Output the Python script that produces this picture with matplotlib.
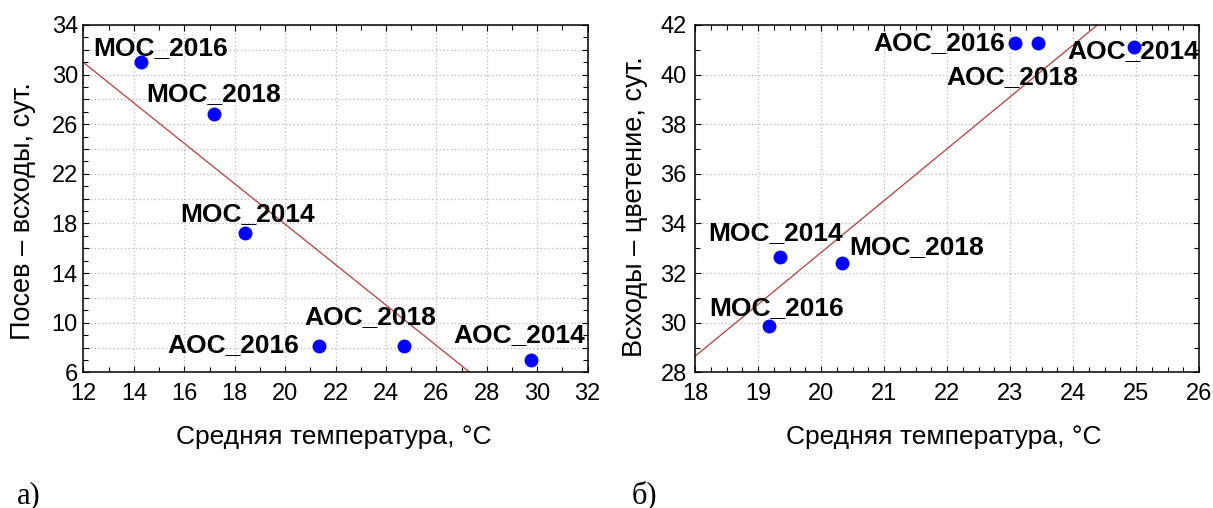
import numpy as np
import matplotlib
matplotlib.use('Agg')
import matplotlib.pyplot as plt
from matplotlib.ticker import MultipleLocator, FuncFormatter

plt.rcParams['font.family'] = ['Liberation Sans', 'DejaVu Sans']

# а) посев - всходы vs средняя температура
temp_a = [14.28, 17.17, 18.40, 21.36, 24.72, 29.77]
days_a = [31.05, 26.80, 17.27, 8.09, 8.09, 7.03]
names_a = ['MOC_2016', 'MOC_2018', 'MOC_2014', 'AOC_2016', 'AOC_2018', 'AOC_2014']

# б) всходы - цветение vs средняя температура
temp_b = [23.08, 23.45, 24.96, 19.35, 20.33, 19.17]
days_b = [41.29, 41.29, 41.10, 32.66, 32.39, 29.86]
names_b = ['AOC_2016', 'AOC_2018', 'AOC_2014', 'MOC_2014', 'MOC_2018', 'MOC_2016']

# label placement (pixels from the point, horizontal alignment)
offs_a = [(20, 7, 'center'), (0, 13, 'center'), (3, 12, 'center'),
          (-20, -6, 'right'), (-34, 22, 'center'), (-12, 18, 'center')]
offs_b = [(-10, -7, 'right'), (-26, -41, 'center'), (0, -11, 'center'),
          (-5, 17, 'center'), (7, 9, 'left'), (8, 11, 'center')]

fig = plt.figure(figsize=(12.13, 5.08), dpi=100)
ax1 = fig.add_axes([0.0688, 0.2671, 0.4157, 0.6837])
ax2 = fig.add_axes([0.5730, 0.2671, 0.4155, 0.6837])


def draw(ax, x, y, names, offs, xlim, ylim):
    # least squares line
    k, b = np.polyfit(x, y, 1)
    xx = np.array(xlim)
    ax.plot(xx, k * xx + b, color='#b83c3c', lw=0.9, zorder=2)
    ax.plot(x, y, 'o', color='#0000ff', markersize=9, zorder=3)
    for xi, yi, nm, (dx, dy, ha) in zip(x, y, names, offs):
        ax.annotate(nm, (xi, yi), xytext=(dx, dy), textcoords='offset pixels',
                    ha=ha, va='baseline', fontsize=19, fontweight='bold', zorder=4)
    ax.set_xlim(xlim)
    ax.set_ylim(ylim)
    ax.grid(True, which='major', color='#b5b5b5', linestyle=(0, (1, 2)), lw=0.9)
    ax.tick_params(which='both', direction='in', top=True, right=True,
                   labelsize=17, width=0.8)
    ax.tick_params(which='major', length=4)
    ax.tick_params(which='minor', length=3.5)
    for s in ax.spines.values():
        s.set_linewidth(1.1)


draw(ax1, temp_a, days_a, names_a, offs_a, (12, 32), (6, 34))
ax1.xaxis.set_major_locator(MultipleLocator(2))
ax1.xaxis.set_minor_locator(MultipleLocator(1))
ax1.yaxis.set_major_locator(MultipleLocator(2))
ax1.yaxis.set_minor_locator(MultipleLocator(1))
# labels only every 4 days, grid every 2
ax1.yaxis.set_major_formatter(FuncFormatter(
    lambda v, p: '%d' % v if round(v - 6) % 4 == 0 else ''))
ax1.tick_params(axis='x', pad=8)
ax1.tick_params(axis='y', pad=4)

draw(ax2, temp_b, days_b, names_b, offs_b, (18, 26), (28, 42))
ax2.xaxis.set_major_locator(MultipleLocator(1))
ax2.xaxis.set_minor_locator(MultipleLocator(0.25))
ax2.yaxis.set_major_locator(MultipleLocator(2))
ax2.yaxis.set_minor_locator(MultipleLocator(1))
ax2.tick_params(axis='x', pad=8)
ax2.tick_params(axis='y', pad=6)

ax1.set_ylabel('Посев – всходы, сут.', fontsize=19.5, va='center')
ax1.yaxis.set_label_coords(-0.12, 0.465)
ax2.set_ylabel('Всходы – цветение, сут.', fontsize=19.5, va='center')
ax2.yaxis.set_label_coords(-0.119, 0.477)

for ax in (ax1, ax2):
    ax.set_xlabel('Средняя температура, °С', fontsize=19, va='center')
ax1.xaxis.set_label_coords(0.497, -0.186)
ax2.xaxis.set_label_coords(0.494, -0.186)

fig.text(0.0138, 0.0098, 'а)', family='Liberation Serif', fontsize=22, va='baseline')
fig.text(0.5208, 0.0098, 'б)', family='Liberation Serif', fontsize=22, va='baseline')

fig.savefig('out.png', dpi=100)
